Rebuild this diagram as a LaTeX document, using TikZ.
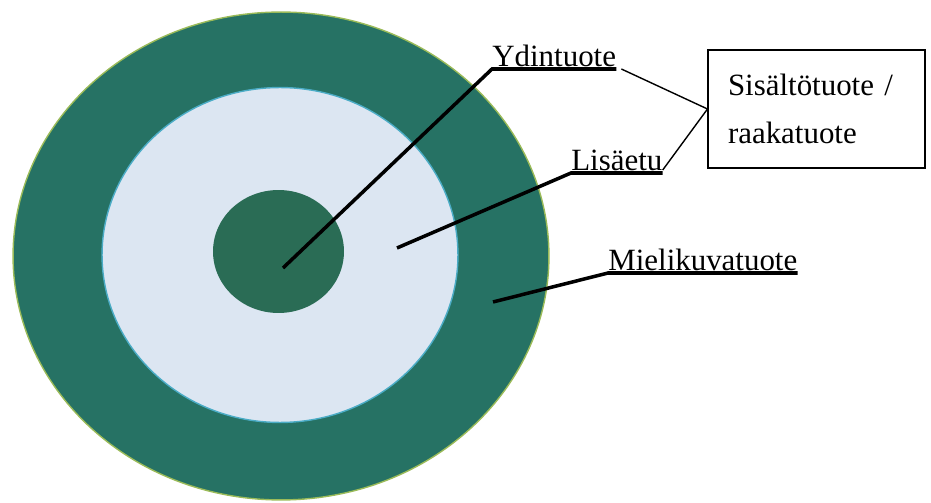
\documentclass[tikz,border=0pt]{standalone}
\usepackage{fontspec}
\setmainfont{Liberation Serif}
\usetikzlibrary{shapes.geometric, positioning}
\definecolor{ringgreen}{HTML}{267264}
\definecolor{coregreen}{HTML}{2A6C55}
\definecolor{addblue}{HTML}{DCE6F2}
\definecolor{rimgreen}{HTML}{9BBB59}
\definecolor{rimblue}{HTML}{4BACC6}

\begin{document}
\begin{tikzpicture}[x=0.02cm, y=-0.02cm,
  layer/.style={ellipse, inner sep=0pt, line width=0.8pt},
  lbl/.style={font=\fontsize{17.6}{21}\selectfont, inner xsep=0pt, inner ysep=1.2pt, text depth=0pt},
  leader/.style={line width=2pt, line join=miter},
  link/.style={line width=0.8pt},
  infobox/.style={draw, line width=0.6pt, minimum width=4.34cm, minimum height=2.36cm,
                  inner xsep=0.4cm, text width=3.54cm, align=left,
                  font=\fontsize{17.6}{27}\selectfont}
]
\useasboundingbox (0,0) rectangle (931,503);

% Product layers
\node[layer, draw=rimgreen, fill=ringgreen, minimum width=10.72cm, minimum height=9.76cm] (image) at (281,256) {};
\node[layer, draw=rimblue, fill=addblue, minimum width=7.12cm, minimum height=6.7cm] (extra) at (280,255) {};
\node[layer, fill=coregreen, minimum width=2.62cm, minimum height=2.46cm] (core) at (278.5,251.5) {};

% Labels
\node[lbl, anchor=south west] (ydin) at (492,69) {Ydintuote};
\node[lbl, anchor=south west] (lisa) at (571,173) {Lisäetu};
\node[lbl, anchor=south west] (mieli) at (608,273) {Mielikuvatuote};
\node[infobox] (raaka) at (816.5,109) {Sisältötuote /\\raakatuote};

% Leader end points
\coordinate (ydinpt) at (283,268);
\coordinate (lisapt) at (397,248);
\coordinate (mielipt) at (493,302);

% Leaders
\draw[leader] (ydinpt) -- (ydin.south west) -- (ydin.south east);
\draw[leader] (lisapt) -- (lisa.south west) -- (lisa.south east);
\draw[leader] (mielipt) -- (mieli.south west) -- (mieli.south east);

% Links to the box
\draw[link] ([xshift=0.1cm]ydin.south east) -- (raaka.west);
\draw[link] ([yshift=0.06cm]lisa.south east) -- (raaka.west);

\end{tikzpicture}
\end{document}
